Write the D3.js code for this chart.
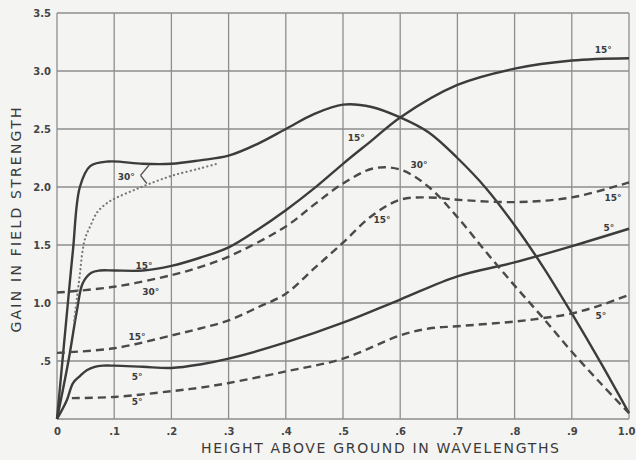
<!DOCTYPE html>
<html><head><meta charset="utf-8">
<script src="https://cdn.jsdelivr.net/npm/d3@7"></script>
<style>
html,body{margin:0;padding:0;background:#f4f4f3;}
svg{display:block;}
</style></head>
<body>
<script>
// ---- data ----
const xTicks = [0,0.1,0.2,0.3,0.4,0.5,0.6,0.7,0.8,0.9,1.0];
const xTickLabels = ["0",".1",".2",".3",".4",".5",".6",".7",".8",".9","1.0"];
const yTicks = [0.5,1.0,1.5,2.0,2.5,3.0,3.5];
const yTickLabels = [".5","1.0","1.5","2.0","2.5","3.0","3.5"];
const yGrid = [0,0.5,1.0,1.5,2.0,2.5,3.0,3.5];

const solid30X = [0,0.019,0.028,0.04,0.058,0.09,0.15,0.2,0.25,0.3,0.35,0.4,0.45,0.5,0.55,0.6,0.65,0.7,0.75,0.8,0.85,0.9,0.95,1.0];
const solid30Y = [0,1.0,1.46,2.0,2.18,2.22,2.2,2.2,2.23,2.27,2.37,2.5,2.63,2.71,2.69,2.6,2.47,2.25,1.99,1.67,1.31,0.91,0.49,0.05];

const solid15X = [0,0.02,0.035,0.045,0.06,0.075,0.1,0.15,0.2,0.25,0.3,0.35,0.4,0.45,0.5,0.55,0.6,0.7,0.8,0.9,1.0];
const solid15Y = [0,0.5,0.94,1.17,1.26,1.28,1.28,1.28,1.32,1.39,1.48,1.63,1.80,1.99,2.2,2.4,2.6,2.88,3.02,3.09,3.11];

const solid5X = [0,0.017,0.028,0.04,0.052,0.066,0.08,0.1,0.15,0.2,0.25,0.3,0.4,0.5,0.6,0.7,0.8,0.9,1.0];
const solid5Y = [0,0.16,0.31,0.37,0.42,0.45,0.46,0.46,0.45,0.44,0.47,0.52,0.66,0.83,1.03,1.23,1.35,1.49,1.64];

const dashed30X = [0,0.1,0.2,0.25,0.3,0.4,0.45,0.5,0.553,0.6,0.65,0.7,0.75,0.8,0.85,0.9,0.95,1.0];
const dashed30Y = [1.09,1.14,1.24,1.31,1.40,1.66,1.85,2.03,2.16,2.15,2.0,1.74,1.44,1.15,0.87,0.58,0.31,0.05];

const dashed15X = [0,0.1,0.2,0.25,0.3,0.35,0.4,0.45,0.5,0.55,0.6,0.65,0.7,0.8,0.9,1.0];
const dashed15Y = [0.57,0.61,0.72,0.78,0.85,0.96,1.08,1.3,1.52,1.75,1.89,1.91,1.89,1.87,1.91,2.04];

const dashed5X = [0.026,0.1,0.2,0.25,0.3,0.4,0.5,0.6,0.65,0.7,0.8,0.85,0.9,0.95,1.0];
const dashed5Y = [0.18,0.19,0.24,0.27,0.31,0.41,0.52,0.72,0.78,0.80,0.84,0.87,0.91,0.98,1.07];

const dotted30X = [0.03,0.035,0.04,0.045,0.05,0.058,0.07,0.087,0.105,0.133,0.163,0.203,0.25,0.28];
const dotted30Y = [0.85,1.05,1.25,1.46,1.57,1.66,1.78,1.86,1.91,1.97,2.03,2.10,2.16,2.2];

const labelText = ["15°","15°","30°","15°","15°","5°","5°","30°","15°","30°","15°","5°","5°"];
const labelX = [0.955,0.523,0.633,0.568,0.972,0.965,0.951,0.121,0.152,0.164,0.140,0.140,0.140];
const labelY = [3.18,2.42,2.19,1.72,1.905,1.65,0.89,2.09,1.32,1.095,0.707,0.36,0.147];

// arrow from the upper-left "30°" label to its two curves
const arrowX = [[0.146,0.161],[0.146,0.157]];
const arrowY = [[2.10,2.19],[2.10,2.03]];

const xTitle = "HEIGHT ABOVE GROUND IN WAVELENGTHS";
const yTitle = "GAIN IN FIELD STRENGTH";

// ---- drawing ----
const W = 636, H = 460;
const svg = d3.select("body").append("svg").attr("width", W).attr("height", H);
svg.append("rect").attr("width", W).attr("height", H).attr("fill", "#f4f4f3");

const x = d3.scaleLinear().domain([0,1]).range([57,629]);
const y = d3.scaleLinear().domain([0,3.5]).range([419,13]);

const gridColor = "#8e8e8e";
const ink = "#3c3c3c";

// grid
svg.append("g").selectAll("line").data(xTicks).join("line")
  .attr("x1", d => x(d)).attr("x2", d => x(d))
  .attr("y1", y(0)).attr("y2", y(3.5))
  .attr("stroke", gridColor).attr("stroke-width", 1.3);
svg.append("g").selectAll("line").data(yGrid).join("line")
  .attr("x1", x(0)).attr("x2", x(1))
  .attr("y1", d => y(d)).attr("y2", d => y(d))
  .attr("stroke", gridColor).attr("stroke-width", 1.3);

// axes tick labels
const xAxis = d3.axisBottom(x).tickValues(xTicks).tickFormat((d,i) => xTickLabels[i]).tickSize(0).tickPadding(9);
const gx = svg.append("g").attr("transform", `translate(0,${y(0)})`).call(xAxis);
gx.select(".domain").remove();
gx.selectAll("text").attr("font-family","DejaVu Sans").attr("font-weight","bold").attr("font-size",10).attr("fill","#444");
gx.selectAll("text").filter(d => d === 1).attr("text-anchor","end").attr("dx", 6);

const yAxis = d3.axisLeft(y).tickValues(yTicks).tickFormat((d,i) => yTickLabels[i]).tickSize(0).tickPadding(6);
const gy = svg.append("g").attr("transform", `translate(${x(0)},0)`).call(yAxis);
gy.select(".domain").remove();
gy.selectAll("text").attr("font-family","DejaVu Sans").attr("font-weight","bold").attr("font-size",10).attr("fill","#444");

// curves
const line = d3.line().x(d => x(d[0])).y(d => y(d[1])).curve(d3.curveCatmullRom.alpha(0.5));
const zip = (a,b) => a.map((v,i) => [v,b[i]]);

const series = [
  {xs: solid30X, ys: solid30Y, dash: null, w: 2.4, c: ink},
  {xs: solid15X, ys: solid15Y, dash: null, w: 2.4, c: ink},
  {xs: solid5X, ys: solid5Y, dash: null, w: 2.4, c: ink},
  {xs: dashed30X, ys: dashed30Y, dash: "8,5", w: 2.4, c: "#4a4a4a"},
  {xs: dashed15X, ys: dashed15Y, dash: "8,5", w: 2.4, c: "#4a4a4a"},
  {xs: dashed5X, ys: dashed5Y, dash: "8,5", w: 2.4, c: "#4a4a4a"},
  {xs: dotted30X, ys: dotted30Y, dash: "0.1,4.2", w: 2.2, c: "#777", cap: "round"}
];
svg.append("g").selectAll("path").data(series).join("path")
  .attr("d", s => line(zip(s.xs, s.ys)))
  .attr("fill","none")
  .attr("stroke", s => s.c)
  .attr("stroke-width", s => s.w)
  .attr("stroke-dasharray", s => s.dash)
  .attr("stroke-linecap", s => s.cap || "butt")
  .attr("stroke-linejoin","round");

// arrow
svg.append("g").selectAll("line").data(arrowX).join("line")
  .attr("x1", (d,i) => x(d[0])).attr("x2", (d,i) => x(d[1]))
  .attr("y1", (d,i) => y(arrowY[i][0])).attr("y2", (d,i) => y(arrowY[i][1]))
  .attr("stroke", "#555").attr("stroke-width", 1.4);

// curve labels
svg.append("g").selectAll("text").data(labelText).join("text")
  .attr("x", (d,i) => x(labelX[i])).attr("y", (d,i) => y(labelY[i]))
  .attr("dy","0.35em").attr("text-anchor","middle")
  .attr("font-family","DejaVu Sans").attr("font-weight","bold").attr("font-size",9)
  .attr("fill","#3a3a3a").text(d => d);

// axis titles
svg.append("text").attr("x", 380).attr("y", 453)
  .attr("text-anchor","middle").attr("font-family","DejaVu Sans").attr("font-size",14)
  .attr("textLength", 358).attr("lengthAdjust","spacing")
  .attr("fill","#3a3a3a").text(xTitle);

svg.append("text").attr("transform","translate(21,220) rotate(-90)")
  .attr("text-anchor","middle").attr("font-family","DejaVu Sans").attr("font-size",14)
  .attr("textLength", 225).attr("lengthAdjust","spacing")
  .attr("fill","#3a3a3a").text(yTitle);
</script>
</body></html>
